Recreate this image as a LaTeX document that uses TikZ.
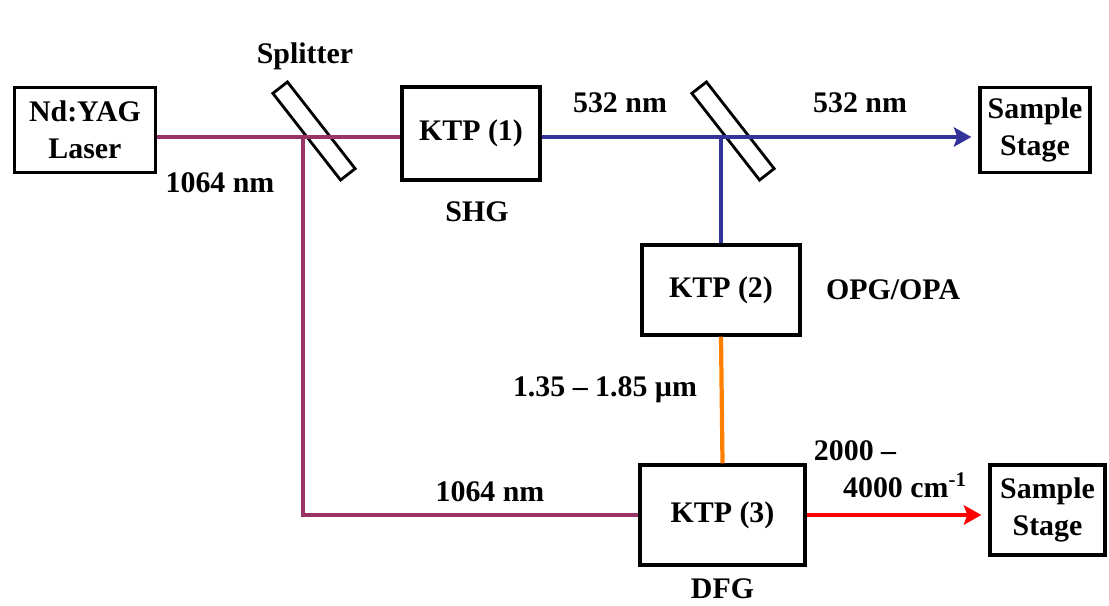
\documentclass[tikz,border=0pt]{standalone}
\usepackage{fontspec}
\setmainfont{Liberation Serif}
\usepackage{xcolor}
\usetikzlibrary{positioning, arrows.meta}

\definecolor{irbeam}{HTML}{993366}
\definecolor{greenbeam}{HTML}{333399}
\definecolor{opabeam}{HTML}{FF7F00}
\definecolor{midir}{HTML}{FF0000}

\begin{document}
\begin{tikzpicture}[
    box/.style={draw, line width=1.8pt, align=center, inner sep=0pt, font=\bfseries\fontsize{17}{21}\selectfont},
    lbl/.style={align=center, inner sep=1pt, font=\bfseries\fontsize{17}{21}\selectfont},
    optic/.style={draw, line width=1.6pt, rotate=-52, minimum width=2.2cm, minimum height=0.37cm, inner sep=0pt},
    beam/.style={line width=2.4pt},
    arrow/.style={beam, -{Stealth[length=10pt, width=11pt, inset=2pt]}, shorten >=4pt}
]
\useasboundingbox (0,0) rectangle (22.18,12.1);

% Nodes
\node[box, minimum width=2.82cm, minimum height=1.7cm] (laser) at (1.70,9.50) {Nd:YAG\\Laser};
\node[optic] (splitter) at (6.28,9.48) {};
\node[box, minimum width=2.76cm, minimum height=1.86cm] (ktp1) at (9.42,9.43) {KTP (1)};
\node[optic] (mirror) at (14.66,9.48) {};
\node[box, minimum width=2.2cm, minimum height=1.7cm] (stage1) at (20.70,9.50) {Sample\\Stage};
\node[box, minimum width=3.16cm, minimum height=1.8cm] (ktp2) at (14.42,6.30) {KTP (2)};
\node[box, minimum width=3.3cm, minimum height=2.0cm] (ktp3) at (14.45,1.80) {KTP (3)};
\node[box, minimum width=2.3cm, minimum height=1.8cm] (stage2) at (20.95,1.90) {Sample\\Stage};

% Beam points
\coordinate (bs) at (6.06,9.36);
\coordinate (bm) at (ktp2.north |- bs);
\coordinate (bend) at (bs |- ktp3);

% Labels
\node[lbl] (splitlbl) at (6.10,10.98) {Splitter};
\node[lbl] (pump) at (4.40,8.44) {1064 nm};
\node[lbl] (shg) at (9.54,7.86) {SHG};
\node[lbl] (green1) at (12.40,10.04) {532 nm};
\node[lbl] (green2) at (17.20,10.04) {532 nm};
\node[lbl, right=0.45cm of ktp2] (opg) {OPG/OPA};
\node[lbl] (signal) at (12.10,4.30) {1.35 – 1.85 µm};
\node[lbl] (idler) at (9.80,2.26) {1064 nm};
\node[lbl, below=0.2cm of ktp3] (dfg) {DFG};
\node[lbl] (range1) at (17.10,3.08) {2000 –};
\node[lbl] (range2) at (18.10,2.40) {4000 cm\textsuperscript{-1}};

% Beams
\draw[beam, irbeam] (laser.east |- bs) -- (ktp1.west |- bs);
\draw[beam, irbeam] (bs) -- (bend) -- (ktp3.west);
\draw[arrow, greenbeam] (ktp1.east |- bs) -- (stage1.west |- bs);
\draw[beam, greenbeam] (bm) -- (ktp2.north);
\draw[beam, opabeam] (ktp2.south) -- (ktp3.north);
\draw[arrow, midir] (ktp3.east) -- (stage2.west |- ktp3.east);

\end{tikzpicture}
\end{document}
